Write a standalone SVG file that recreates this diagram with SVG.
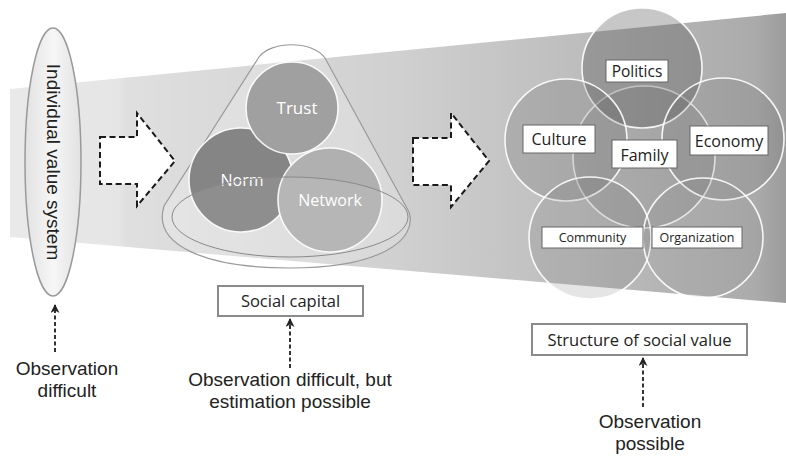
<svg xmlns="http://www.w3.org/2000/svg" width="786" height="457" viewBox="0 0 786 457">
<defs>
<linearGradient id="band" x1="10" y1="0" x2="786" y2="0" gradientUnits="userSpaceOnUse">
<stop offset="0" stop-color="#e9e9e9"/>
<stop offset="0.14" stop-color="#e5e5e5"/>
<stop offset="0.15" stop-color="#dfdfdf"/>
<stop offset="0.5" stop-color="#d0d0d0"/>
<stop offset="0.96" stop-color="#ababab"/>
<stop offset="1" stop-color="#9c9c9c"/>
</linearGradient>
<linearGradient id="ell" x1="0" y1="0" x2="1" y2="0">
<stop offset="0" stop-color="#e2e2e2"/>
<stop offset="0.5" stop-color="#f6f6f6"/>
<stop offset="1" stop-color="#e2e2e2"/>
</linearGradient>
<marker id="ah" markerWidth="9" markerHeight="9" refX="8" refY="4.5" orient="auto" markerUnits="userSpaceOnUse">
<path d="M0,0 L9,4.5 L0,9 L2.5,4.5 Z" fill="#222"/>
</marker>
<style>
.blk{fill:#fff;stroke:#1a1a1a;stroke-width:2;stroke-dasharray:6 3.5;stroke-linejoin:miter}
.dash{fill:none;stroke:#333;stroke-width:2;stroke-dasharray:4 2.5}
.arial{font-family:"Liberation Sans",Arial,sans-serif;fill:#222}
.cal{font-family:"Open Sans","Noto Sans",sans-serif;fill:#222}
.wt{font-family:"Open Sans","Noto Sans",sans-serif;fill:#fff}
.lbl{fill:#fff;stroke:#666;stroke-width:1}
.box{fill:#fff;stroke:#8a8a8a;stroke-width:2}
.vc{stroke:#fff;stroke-width:1.6;stroke-opacity:0.9}
</style>
</defs>

<g id="band-bg">
<polygon points="10,89 786,13 786,303 10,237" fill="url(#band)"/>
</g>

<g id="individual">
<ellipse cx="53" cy="162" rx="28" ry="134" fill="url(#ell)" stroke="#9a9a9a" stroke-width="1.5"/>
<text class="arial" x="53" y="162" font-size="19" text-anchor="middle" dominant-baseline="central" transform="rotate(90 53 162)">Individual value system</text>
</g>

<g id="arrow1">
<path class="blk" d="M100,137 L137,137 L137,113 L175,161 L137,206 L137,184 L100,184 Z"/>
</g>

<g id="social-capital-cone">
<path d="M259,57 C271,41 312,40 325,58 L409,212 C418,240 380,268 290,268 C205,268 152,245 164,206 Z" fill="#ffffff" fill-opacity="0.18" stroke="#9a9a9a" stroke-width="1.2"/>
<g id="norm">
<circle cx="241" cy="180" r="52" fill="#858585" class="vc"/>
<text class="wt" x="242" y="186" font-size="16" text-anchor="middle">Norm</text>
</g>
<g id="network">
<circle cx="330" cy="200" r="52" fill="#b0b0b0" class="vc"/>
<text class="wt" x="330" y="206" font-size="16" text-anchor="middle">Network</text>
</g>
<g id="trust">
<circle cx="292" cy="108" r="46" fill="#a0a0a0" class="vc"/>
<text class="wt" x="297" y="114" font-size="17" text-anchor="middle">Trust</text>
</g>
<ellipse cx="290" cy="217" rx="118" ry="40" fill="#ffffff" fill-opacity="0.08" stroke="#8a8a8a" stroke-width="1"/>
</g>

<g id="arrow2">
<path class="blk" d="M413,138 L451,138 L451,113 L489,161 L451,207 L451,185 L413,185 Z"/>
</g>

<g id="social-value-venn">
<g id="family-circle"><circle cx="644" cy="157" r="71" fill="#505050" fill-opacity="0.14" class="vc"/></g>
<g id="politics"><circle cx="642" cy="68" r="60" fill="#444" fill-opacity="0.3" class="vc"/></g>
<g id="culture"><circle cx="566" cy="140" r="61" fill="#555" fill-opacity="0.2" class="vc"/></g>
<g id="economy"><circle cx="723" cy="139" r="61" fill="#555" fill-opacity="0.14" class="vc"/></g>
<g id="community"><circle cx="590" cy="238" r="61" fill="#666" fill-opacity="0.17" class="vc"/></g>
<g id="organization"><circle cx="703" cy="238" r="60" fill="#777" fill-opacity="0.1" class="vc"/></g>

<g id="politics-label">
<rect class="lbl" x="606" y="60" width="62" height="22"/>
<text class="cal" x="637" y="76.5" font-size="15.5" text-anchor="middle">Politics</text>
</g>
<g id="culture-label">
<rect class="lbl" x="523" y="125" width="72" height="28"/>
<text class="cal" x="559" y="145" font-size="16" text-anchor="middle">Culture</text>
</g>
<g id="family-label">
<rect class="lbl" x="612" y="140" width="65" height="28"/>
<text class="cal" x="644.5" y="160.5" font-size="16" text-anchor="middle">Family</text>
</g>
<g id="economy-label">
<rect class="lbl" x="690" y="126" width="78" height="29"/>
<text class="cal" x="729" y="146.5" font-size="16" text-anchor="middle">Economy</text>
</g>
<g id="community-label">
<rect class="lbl" x="542" y="227" width="101" height="21"/>
<text class="cal" x="592.5" y="242" font-size="12.5" text-anchor="middle">Community</text>
</g>
<g id="organization-label">
<rect class="lbl" x="652" y="227" width="90" height="21"/>
<text class="cal" x="697" y="242" font-size="12.5" text-anchor="middle">Organization</text>
</g>
</g>

<g id="social-capital-box">
<rect class="box" x="218" y="286" width="145" height="30"/>
<text class="cal" x="290.5" y="307" font-size="16.5" text-anchor="middle">Social capital</text>
</g>

<g id="structure-box">
<rect class="box" x="532" y="324" width="215" height="31"/>
<text class="cal" x="639.5" y="345.5" font-size="16.5" text-anchor="middle">Structure of social value</text>
</g>

<g id="connectors">
<line class="dash" x1="55" y1="352" x2="55" y2="305" marker-end="url(#ah)"/>
<line class="dash" x1="290" y1="368" x2="290" y2="319" marker-end="url(#ah)"/>
<line class="dash" x1="643" y1="407" x2="643" y2="358" marker-end="url(#ah)"/>
</g>

<g id="obs-left">
<text class="arial" x="67" y="375" font-size="19" text-anchor="middle">Observation</text>
<text class="arial" x="67" y="397" font-size="19" text-anchor="middle">difficult</text>
</g>
<g id="obs-middle">
<text class="arial" x="290" y="386" font-size="19" text-anchor="middle">Observation difficult, but</text>
<text class="arial" x="290" y="408" font-size="19" text-anchor="middle">estimation possible</text>
</g>
<g id="obs-right">
<text class="arial" x="650" y="428" font-size="19" text-anchor="middle">Observation</text>
<text class="arial" x="650" y="450" font-size="19" text-anchor="middle">possible</text>
</g>
</svg>
